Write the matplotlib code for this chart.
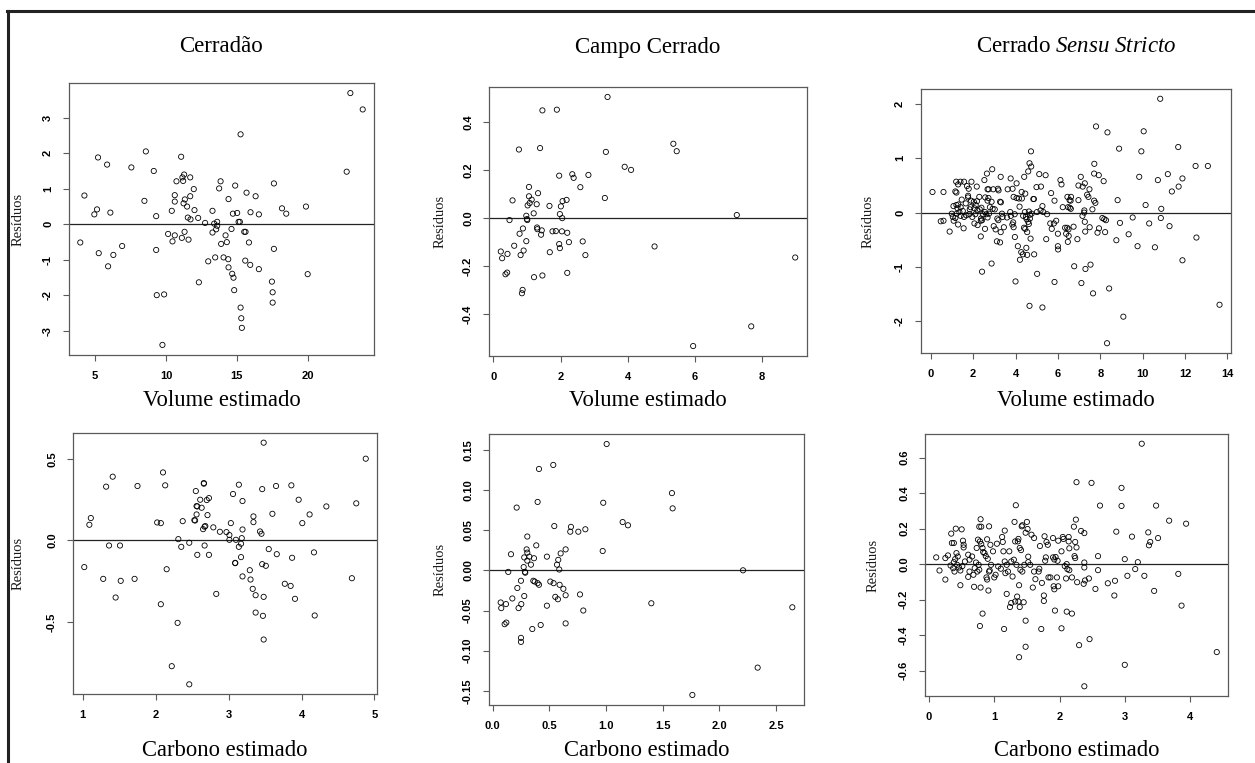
import matplotlib
matplotlib.use("Agg")
import matplotlib.pyplot as plt
from matplotlib.lines import Line2D

plt.rcParams["mathtext.fontset"] = "custom"
plt.rcParams["mathtext.rm"] = "Liberation Serif"
plt.rcParams["mathtext.it"] = "Liberation Serif:italic"

# ---------------- data ----------------
titles = ["Cerradão", "Campo Cerrado", r"Cerrado $\mathit{Sensu\ Stricto}$"]
xlabels_top = "Volume estimado"
xlabels_bot = "Carbono estimado"
ylabel = "Resíduos"

# Cerradão - Volume
p1 = [(23.0, 3.69), (23.87, 3.23), (22.74, 1.48), (3.96, -0.51), (4.25, 0.81), (5.21, 1.88), (5.14, 0.42),
      (4.95, 0.28), (5.26, -0.81), (5.85, 1.68), (6.08, 0.33), (5.92, -1.18), (6.29, -0.86), (6.91, -0.61),
      (7.56, 1.60), (8.58, 2.05), (8.48, 0.66), (9.14, 1.50), (9.31, 0.23), (9.31, -0.72), (9.35, -1.99),
      (9.87, -1.97), (9.75, -3.39), (10.15, -0.27), (10.41, 0.38), (10.46, -0.48), (10.62, -0.31),
      (10.62, 0.82), (10.62, 0.64), (10.74, 1.21), (11.07, 1.90), (11.12, -0.38), (11.16, 1.32),
      (11.21, 1.22), (11.28, 1.40), (11.24, 0.59), (11.33, 0.70), (11.31, -0.21), (11.49, 0.50),
      (11.54, 0.19), (11.59, -0.43), (11.71, 1.32), (11.71, 0.79), (11.73, 0.14), (11.96, 0.99),
      (12.01, 0.40), (12.27, 0.18), (12.32, -1.63), (12.76, 0.04), (12.98, -1.04), (13.28, 0.38),
      (13.28, -0.23), (13.40, 0.02), (13.47, -0.93), (13.54, -0.14), (13.61, 0.07), (13.61, -0.04),
      (13.75, 1.01), (13.85, 1.21), (13.89, -0.55), (14.06, -0.93), (14.20, -0.31), (14.29, -0.50),
      (14.39, -0.98), (14.41, -1.21), (14.41, 0.71), (14.62, -0.13), (14.67, -1.39), (14.72, 0.30),
      (14.76, -1.50), (14.81, -1.85), (14.88, 1.09), (15.02, 0.32), (15.12, 0.07), (15.21, 0.07),
      (15.26, 2.53), (15.26, -2.34), (15.31, -2.64), (15.35, -2.91), (15.52, -0.21), (15.61, -0.21),
      (15.59, -1.02), (15.68, 0.89), (15.85, -0.51), (15.94, -1.14), (15.96, 0.34), (16.32, 0.79),
      (16.55, 0.28), (16.55, -1.26), (17.47, -1.61), (17.52, -1.91), (17.52, -2.20), (17.61, 1.15),
      (17.61, -0.69), (18.18, 0.45), (18.48, 0.30), (19.87, 0.50), (19.99, -1.40)]

# Campo Cerrado - Volume
p2 = [(3.40, 0.506), (1.46, 0.450), (1.89, 0.453), (0.76, 0.287), (1.39, 0.293), (3.35, 0.277), (5.36, 0.311),
      (5.46, 0.280), (3.91, 0.215), (4.10, 0.202), (1.96, 0.178), (2.35, 0.184), (2.39, 0.169), (2.83, 0.181),
      (2.59, 0.130), (1.06, 0.131), (1.33, 0.105), (1.06, 0.092), (0.57, 0.075), (1.14, 0.078), (1.02, 0.054),
      (1.08, 0.064), (1.29, 0.059), (1.67, 0.052), (2.01, 0.050), (2.06, 0.072), (2.18, 0.077), (3.32, 0.085),
      (1.20, 0.021), (0.98, 0.011), (1.00, -0.003), (1.01, -0.007), (1.98, 0.018), (2.05, 0.001), (0.48, -0.007),
      (7.25, 0.014), (1.30, -0.038), (1.31, -0.045), (0.88, -0.042), (1.44, -0.050), (1.42, -0.068),
      (0.78, -0.064), (1.76, -0.054), (1.86, -0.053), (2.04, -0.054), (2.20, -0.060), (2.25, -0.099),
      (2.66, -0.096), (0.98, -0.095), (0.62, -0.114), (1.96, -0.107), (1.98, -0.124), (1.68, -0.141),
      (2.74, -0.153), (4.80, -0.117), (0.22, -0.138), (0.26, -0.166), (0.42, -0.148), (0.81, -0.153),
      (0.90, -0.134), (8.99, -0.163), (0.36, -0.233), (0.41, -0.226), (1.21, -0.245), (1.46, -0.238),
      (2.20, -0.227), (0.87, -0.298), (0.85, -0.312), (7.68, -0.450), (5.95, -0.532)]

# Cerrado sensu stricto - Volume
p3 = [(10.83, 2.10), (7.80, 1.59), (8.34, 1.48), (10.05, 1.50), (11.68, 1.21), (8.89, 1.18), (9.94, 1.13),
      (4.73, 1.13), (4.66, 0.91), (7.72, 0.90), (12.50, 0.86), (13.08, 0.86), (4.74, 0.85), (2.90, 0.80),
      (2.65, 0.72), (4.60, 0.76), (5.12, 0.71), (5.42, 0.69), (3.30, 0.66), (4.41, 0.66), (7.08, 0.66),
      (7.71, 0.72), (7.93, 0.69), (8.16, 0.58), (11.19, 0.71), (9.84, 0.66), (10.72, 0.60), (11.88, 0.63),
      (11.70, 0.48), (11.38, 0.39), (3.77, 0.63), (2.53, 0.60), (1.40, 0.57), (1.92, 0.57), (1.57, 0.57),
      (1.20, 0.57), (6.12, 0.60), (6.17, 0.52), (5.20, 0.48), (4.99, 0.47), (4.05, 0.54), (3.86, 0.44),
      (3.63, 0.43), (2.95, 0.43), (2.73, 0.43), (3.17, 0.44), (3.20, 0.41), (1.79, 0.44), (1.71, 0.49),
      (1.29, 0.52), (0.08, 0.38), (0.60, 0.38), (1.16, 0.39), (1.21, 0.37), (2.17, 0.48), (2.68, 0.43),
      (4.29, 0.38), (4.46, 0.35), (5.68, 0.36), (6.62, 0.29), (6.97, 0.50), (7.17, 0.48), (7.27, 0.54),
      (7.49, 0.43), (7.38, 0.33), (7.44, 0.29), (6.45, 0.29), (6.55, 0.23), (6.60, 0.22), (7.71, 0.22),
      (7.77, 0.18), (6.97, 0.23), (8.82, 0.23), (5.84, 0.22), (3.91, 0.29), (4.05, 0.27), (4.16, 0.26),
      (4.30, 0.26), (4.84, 0.25), (4.87, 0.25), (2.57, 0.28), (2.72, 0.27), (2.29, 0.29), (1.76, 0.31),
      (1.76, 0.28), (1.46, 0.24), (2.68, 0.22), (2.87, 0.20), (3.27, 0.20), (3.31, 0.19), (2.03, 0.20),
      (2.18, 0.21), (2.12, 0.14), (1.90, 0.22), (1.65, 0.17), (1.30, 0.15), (1.21, 0.14), (1.41, 0.10),
      (1.07, 0.12), (1.26, 0.08), (0.99, -0.02), (1.35, 0.01), (1.51, 0.03), (1.41, -0.06), (1.57, -0.08),
      (1.68, -0.05), (1.29, -0.22), (1.08, -0.15), (1.55, -0.29), (0.89, -0.35), (0.60, -0.15), (1.84, 0.06),
      (1.88, 0.10), (2.06, 0.08), (2.20, 0.04), (2.31, 0.06), (2.39, 0.09), (2.10, -0.03), (2.06, -0.20),
      (2.21, -0.23), (2.36, -0.15), (2.37, -0.11), (2.42, -0.14), (2.56, 0.01), (2.62, -0.03), (2.68, -0.09),
      (2.56, -0.30), (2.36, -0.44), (2.46, -0.03), (2.75, -0.02), (2.79, 0.10), (2.92, 0.07), (3.02, 0.06),
      (2.97, -0.25), (3.06, -0.31), (3.14, -0.11), (3.19, -0.14), (3.12, -0.53), (3.27, -0.55), (2.87, -0.94),
      (2.42, -1.09), (3.30, -0.36), (3.36, -0.02), (3.39, -0.08), (3.45, -0.27), (3.60, -0.09), (3.75, 0.01),
      (3.78, -0.06), (3.85, -0.22), (3.89, -0.18), (3.91, -0.27), (3.97, -0.45), (3.96, -0.03), (4.00, -1.27),
      (4.11, -0.62), (4.19, 0.11), (4.21, -0.87), (4.27, -0.73), (4.35, -0.77), (4.36, -0.06), (4.40, -0.28),
      (4.44, 0.01), (4.46, -0.30), (4.51, -0.65), (4.55, -0.78), (4.49, -0.08), (4.52, -0.12), (4.55, -0.36),
      (4.60, -0.17), (4.63, -0.21), (4.63, 0.02), (4.66, -1.72), (4.68, -0.04), (4.68, -0.11), (4.71, -0.48),
      (4.88, -0.77), (4.76, -0.02), (5.01, 0.01), (5.02, -1.13), (5.18, 0.04), (5.27, 0.12), (5.27, -1.75),
      (5.31, 0.01), (5.45, -0.49), (5.49, -0.03), (5.64, -0.20), (5.71, -0.30), (5.81, -0.20), (5.92, -0.15),
      (5.84, -1.28), (6.00, -0.39), (6.00, -0.62), (6.01, -0.68), (6.23, 0.10), (6.34, -0.28), (6.39, -0.39),
      (6.44, -0.28), (6.48, 0.10), (6.50, -0.31), (6.47, -0.54), (6.51, -0.43), (6.56, 0.09), (6.61, 0.07),
      (6.74, -0.26), (6.77, -0.99), (6.92, -0.49), (7.11, -1.30), (7.16, -0.06), (7.24, 0.00), (7.27, -0.17),
      (7.29, -0.35), (7.30, -1.04), (7.25, 0.04), (7.50, -0.27), (7.54, -0.96), (7.63, 0.06), (7.66, -1.49),
      (7.87, -0.37), (7.94, -0.29), (8.10, -0.10), (8.19, -0.12), (8.27, -0.14), (8.23, -0.36), (8.32, -2.41),
      (8.42, -1.40), (8.76, -0.51), (8.93, -0.19), (9.09, -1.92), (9.34, -0.40), (9.53, -0.09), (9.76, -0.62),
      (10.14, 0.14), (10.31, -0.20), (10.58, -0.64), (10.88, 0.07), (10.86, -0.10), (11.27, -0.25),
      (11.88, -0.88), (12.54, -0.46), (13.63, -1.70), (0.47, -0.16), (1.04, -0.08), (1.16, -0.10),
      (1.22, -0.02), (1.82, -0.03), (1.96, -0.08)]

# Cerradão - Carbono
p4 = [(3.48, 0.598), (2.10, 0.416), (1.41, 0.390), (1.32, 0.329), (1.75, 0.333), (2.13, 0.337), (2.55, 0.302),
      (2.66, 0.351), (2.66, 0.347), (2.61, 0.249), (2.73, 0.259), (2.70, 0.247), (3.06, 0.284), (3.14, 0.341),
      (3.19, 0.241), (3.46, 0.314), (3.65, 0.333), (3.86, 0.337), (3.96, 0.249), (4.34, 0.208), (4.75, 0.227),
      (2.56, 0.210), (2.57, 0.208), (2.63, 0.200), (2.56, 0.159), (2.71, 0.155), (2.53, 0.124), (2.54, 0.122),
      (2.65, 0.069), (2.67, 0.084), (2.68, 0.088), (2.79, 0.080), (2.88, 0.053), (2.97, 0.051), (3.01, 0.033),
      (3.01, 0.004), (3.03, 0.106), (3.10, 0.004), (3.19, 0.067), (3.18, 0.014), (3.34, 0.147), (3.34, 0.112),
      (3.43, 0.055), (3.45, 0.041), (3.60, 0.163), (4.11, 0.159), (4.01, 0.106), (1.09, 0.096), (1.11, 0.137),
      (2.02, 0.110), (2.07, 0.106), (2.37, 0.118), (2.31, 0.008), (2.35, -0.039), (2.46, -0.014),
      (2.67, -0.031), (1.36, -0.031), (1.51, -0.031), (1.02, -0.163), (1.28, -0.235), (1.52, -0.247),
      (1.71, -0.235), (1.45, -0.349), (2.15, -0.176), (2.57, -0.088), (2.73, -0.088), (3.14, -0.039),
      (3.17, -0.020), (3.09, -0.137), (3.09, -0.139), (3.17, -0.102), (3.55, -0.053), (3.66, -0.084),
      (3.87, -0.106), (4.17, -0.073), (3.46, -0.145), (3.51, -0.155), (3.29, -0.182), (3.30, -0.239),
      (3.19, -0.220), (3.33, -0.296), (3.37, -0.335), (3.48, -0.345), (2.83, -0.327), (3.77, -0.265),
      (3.85, -0.278), (3.91, -0.357), (2.07, -0.390), (3.37, -0.441), (3.47, -0.461), (4.18, -0.459),
      (2.30, -0.504), (3.48, -0.606), (2.22, -0.769), (2.46, -0.880), (4.69, -0.231), (4.88, 0.500)]

# Campo Cerrado - Carbono
p5 = [(1.006, 0.157), (0.535, 0.131), (0.409, 0.126), (1.582, 0.096), (1.588, 0.077), (0.212, 0.078),
      (0.397, 0.085), (0.976, 0.084), (1.147, 0.060), (1.194, 0.056), (0.544, 0.055), (0.691, 0.054),
      (0.685, 0.048), (0.756, 0.048), (0.818, 0.051), (0.306, 0.042), (0.385, 0.031), (0.300, 0.026),
      (0.644, 0.026), (0.306, 0.022), (0.971, 0.024), (0.162, 0.020), (0.600, 0.021), (0.479, 0.017),
      (0.279, 0.016), (0.365, 0.015), (0.324, 0.017), (0.306, 0.012), (0.579, 0.013), (0.338, 0.007),
      (0.568, 0.007), (0.588, 0.001), (0.274, 0.004), (0.285, -0.002), (0.288, -0.003), (0.138, -0.002),
      (2.209, 0.000), (0.250, -0.013), (0.359, -0.013), (0.371, -0.014), (0.397, -0.016), (0.409, -0.018),
      (0.509, -0.014), (0.538, -0.016), (0.591, -0.018), (0.624, -0.023), (0.218, -0.022), (0.174, -0.035),
      (0.279, -0.032), (0.553, -0.033), (0.576, -0.036), (0.644, -0.031), (0.771, -0.030), (0.071, -0.040),
      (0.076, -0.047), (0.118, -0.042), (0.229, -0.047), (0.253, -0.042), (0.479, -0.044), (0.800, -0.050),
      (1.400, -0.041), (2.644, -0.046), (0.106, -0.067), (0.121, -0.065), (0.350, -0.073), (0.424, -0.068),
      (0.644, -0.066), (0.250, -0.084), (0.250, -0.089), (2.338, -0.121), (1.762, -0.155)]

# Cerrado sensu stricto - Carbono
p6 = [(3.26, 0.679), (2.26, 0.462), (2.49, 0.458), (2.95, 0.430), (2.95, 0.328), (2.62, 0.330), (3.48, 0.330),
      (1.33, 0.332), (3.68, 0.245), (3.94, 0.228), (2.25, 0.251), (2.87, 0.183), (3.36, 0.179), (3.11, 0.155),
      (3.51, 0.147), (3.39, 0.125), (3.37, 0.106), (2.33, 0.187), (2.38, 0.175), (2.22, 0.211), (2.24, 0.125),
      (2.26, 0.094), (2.59, 0.045), (2.38, 0.009), (2.23, 0.045), (2.24, 0.034), (3.00, 0.028), (3.20, 0.011),
      (3.16, -0.028), (3.04, -0.066), (3.30, -0.066), (3.82, -0.055), (2.59, -0.034), (2.38, -0.019),
      (2.45, -0.081), (2.39, -0.092), (2.37, -0.111), (2.27, -0.102), (2.74, -0.108), (2.85, -0.094),
      (2.55, -0.140), (2.84, -0.177), (3.45, -0.151), (3.87, -0.234), (4.41, -0.496), (3.00, -0.568),
      (2.38, -0.689), (2.46, -0.423), (2.30, -0.457), (2.19, -0.279), (2.11, -0.268), (1.93, -0.262),
      (2.03, -0.362), (1.72, -0.366), (1.48, -0.319), (1.48, -0.466), (1.38, -0.525), (1.15, -0.366),
      (0.78, -0.349), (0.82, -0.279), (1.76, -0.177), (1.76, -0.208), (1.45, -0.215), (1.39, -0.242),
      (1.35, -0.183), (1.37, -0.211), (1.32, -0.211), (1.26, -0.219), (1.24, -0.242), (1.19, -0.168),
      (1.38, -0.119), (0.91, -0.149), (0.48, -0.119), (0.69, -0.128), (0.79, -0.132), (0.25, -0.087),
      (0.16, -0.036), (0.11, 0.038), (0.29, 0.049), (0.25, 0.034), (0.35, 0.119), (0.34, 0.172), (0.38, 0.119),
      (0.41, 0.200), (0.50, 0.196), (0.52, 0.132), (0.53, 0.109), (0.53, 0.094), (0.42, 0.062), (0.44, 0.043),
      (0.40, 0.028), (0.38, 0.011), (0.33, -0.008), (0.37, -0.023), (0.39, -0.042), (0.43, -0.004),
      (0.46, -0.019), (0.48, -0.036), (0.51, -0.011), (0.55, 0.015), (0.60, 0.053), (0.62, 0.025),
      (0.66, 0.043), (0.62, -0.042), (0.60, -0.072), (0.68, -0.060), (0.70, -0.023), (0.72, 0.009),
      (0.76, -0.004), (0.77, -0.032), (0.74, -0.042), (0.73, 0.091), (0.75, 0.138), (0.78, 0.128),
      (0.77, 0.211), (0.80, 0.211), (0.79, 0.253), (0.80, 0.113), (0.82, 0.091), (0.83, 0.068), (0.85, 0.062),
      (0.87, 0.045), (0.90, 0.030), (0.88, -0.075), (0.89, -0.087), (0.93, -0.036), (0.92, -0.042),
      (0.95, -0.004), (0.89, 0.140), (0.92, 0.213), (0.94, 0.109), (0.98, 0.072), (1.00, -0.075),
      (1.02, -0.060), (1.04, 0.115), (1.06, -0.013), (1.10, -0.026), (1.12, 0.153), (1.13, 0.125),
      (1.14, 0.072), (1.16, 0.189), (1.16, 0.015), (1.17, -0.051), (1.19, -0.004), (1.21, -0.042),
      (1.23, 0.072), (1.26, 0.015), (1.28, -0.070), (1.30, 0.025), (1.31, 0.238), (1.32, 0.128),
      (1.34, -0.004), (1.36, 0.128), (1.37, 0.142), (1.39, 0.091), (1.41, 0.079), (1.40, -0.032),
      (1.42, 0.213), (1.43, 0.219), (1.43, -0.042), (1.46, -0.004), (1.48, 0.177), (1.50, 0.238),
      (1.51, 0.198), (1.52, 0.042), (1.52, 0.011), (1.55, -0.004), (1.57, 0.166), (1.59, -0.132),
      (1.61, 0.147), (1.61, -0.042), (1.63, -0.085), (1.68, -0.042), (1.69, -0.026), (1.70, 0.102),
      (1.73, -0.106), (1.77, 0.157), (1.78, 0.019), (1.79, 0.038), (1.80, 0.125), (1.82, 0.109),
      (1.83, -0.075), (1.86, -0.075), (1.90, 0.147), (1.90, 0.038), (1.91, -0.125), (1.92, 0.026),
      (1.92, -0.142), (1.94, 0.040), (1.96, -0.075), (1.97, 0.019), (1.98, -0.125), (1.98, 0.132),
      (2.03, 0.072), (2.05, 0.153), (2.06, 0.142), (2.08, -0.011), (2.10, -0.081), (2.11, 0.000),
      (2.12, -0.028), (2.14, 0.153), (2.14, 0.128), (2.15, 0.089), (2.15, -0.034), (2.19, -0.075)]

panels = [p1, p2, p3, p4, p5, p6]

xticks = [[5, 10, 15, 20], [0, 2, 4, 6, 8], [0, 2, 4, 6, 8, 10, 12, 14],
          [1, 2, 3, 4, 5], [0.0, 0.5, 1.0, 1.5, 2.0, 2.5], [0, 1, 2, 3, 4]]
xticklabels = [["5", "10", "15", "20"], ["0", "2", "4", "6", "8"],
               ["0", "2", "4", "6", "8", "10", "12", "14"],
               ["1", "2", "3", "4", "5"], ["0.0", "0.5", "1.0", "1.5", "2.0", "2.5"],
               ["0", "1", "2", "3", "4"]]
yticks = [[-3, -2, -1, 0, 1, 2, 3], [-0.4, -0.2, 0.0, 0.2, 0.4], [-2, -1, 0, 1, 2],
          [-0.5, 0.0, 0.5], [-0.15, -0.10, -0.05, 0.0, 0.05, 0.10, 0.15],
          [-0.6, -0.4, -0.2, 0.0, 0.2, 0.4, 0.6]]
yticklabels = [["-3", "-2", "-1", "0", "1", "2", "3"], ["-0.4", "-0.2", "0.0", "0.2", "0.4"],
               ["-2", "-1", "0", "1", "2"], ["-0.5", "0.0", "0.5"],
               ["-0.15", "-0.10", "-0.05", "0.00", "0.05", "0.10", "0.15"],
               ["-0.6", "-0.4", "-0.2", "0.0", "0.2", "0.4", "0.6"]]

# ---------------- layout (pixels: left, top, right, bottom) ----------------
W, H = 1255, 763
boxes = [(69, 83, 374, 355), (489, 87, 807, 356), (921, 89, 1231, 353),
         (73, 433, 377, 694), (489, 434, 804, 705), (925, 434, 1228, 696)]
ylab_off = [44, 42, 46, 48, 42, 45]

fig = plt.figure(figsize=(W / 100, H / 100), dpi=100)
fig.patch.set_facecolor("white")

serif = "Liberation Serif"
sans = "Liberation Sans"
frame_col = "#5a5a5a"

for i, (data, box) in enumerate(zip(panels, boxes)):
    l, t, r, b = box
    ax = fig.add_axes([l / W, 1 - b / H, (r - l) / W, (b - t) / H])
    xs = [p[0] for p in data]
    ys = [p[1] for p in data]
    ax.scatter(xs, ys, s=14, facecolors="none", edgecolors="black", linewidths=0.6, zorder=3)
    ax.axhline(0, color="#222222", lw=0.9, zorder=2)
    # R style 4% range extension
    xr = max(xs) - min(xs)
    yr = max(ys) - min(ys)
    ax.set_xlim(min(xs) - 0.04 * xr, max(xs) + 0.04 * xr)
    ax.set_ylim(min(ys) - 0.04 * yr, max(ys) + 0.04 * yr)
    ax.set_xticks(xticks[i])
    ax.set_xticklabels(xticklabels[i], fontfamily=sans, fontweight="bold", fontsize=8)
    ax.set_yticks(yticks[i])
    ax.set_yticklabels(yticklabels[i], fontfamily=sans, fontweight="bold", fontsize=8,
                       rotation=90, va="center")
    ax.tick_params(direction="out", length=4.5, width=0.8, color=frame_col, pad=7)
    for sp in ax.spines.values():
        sp.set_color(frame_col)
        sp.set_linewidth(0.9)
    ax.set_ylabel(ylabel, fontfamily=serif, fontsize=10.5, color="#1a1a1a")
    ax.yaxis.set_label_coords(-ylab_off[i] / (r - l), 0.5)
    cx = (l + r) / 2 / W
    if i < 3:
        fig.text(cx, 1 - 47 / H, titles[i], ha="center", va="center", fontfamily=serif, fontsize=16.5)
        fig.text(cx, 1 - 400 / H, xlabels_top, ha="center", va="center", fontfamily=serif, fontsize=16.3)
    else:
        fig.text(cx, 1 - 750 / H, xlabels_bot, ha="center", va="center", fontfamily=serif, fontsize=16.3)

# outer frame (top and left edges visible in the reference)
fig.add_artist(Line2D([7 / W, 1.0], [1 - 11 / H, 1 - 11 / H], color="#222222", lw=2.2))
fig.add_artist(Line2D([8 / W, 8 / W], [0.0, 1 - 11 / H], color="#222222", lw=2.2))

fig.savefig("out.png", dpi=100, facecolor="white")
